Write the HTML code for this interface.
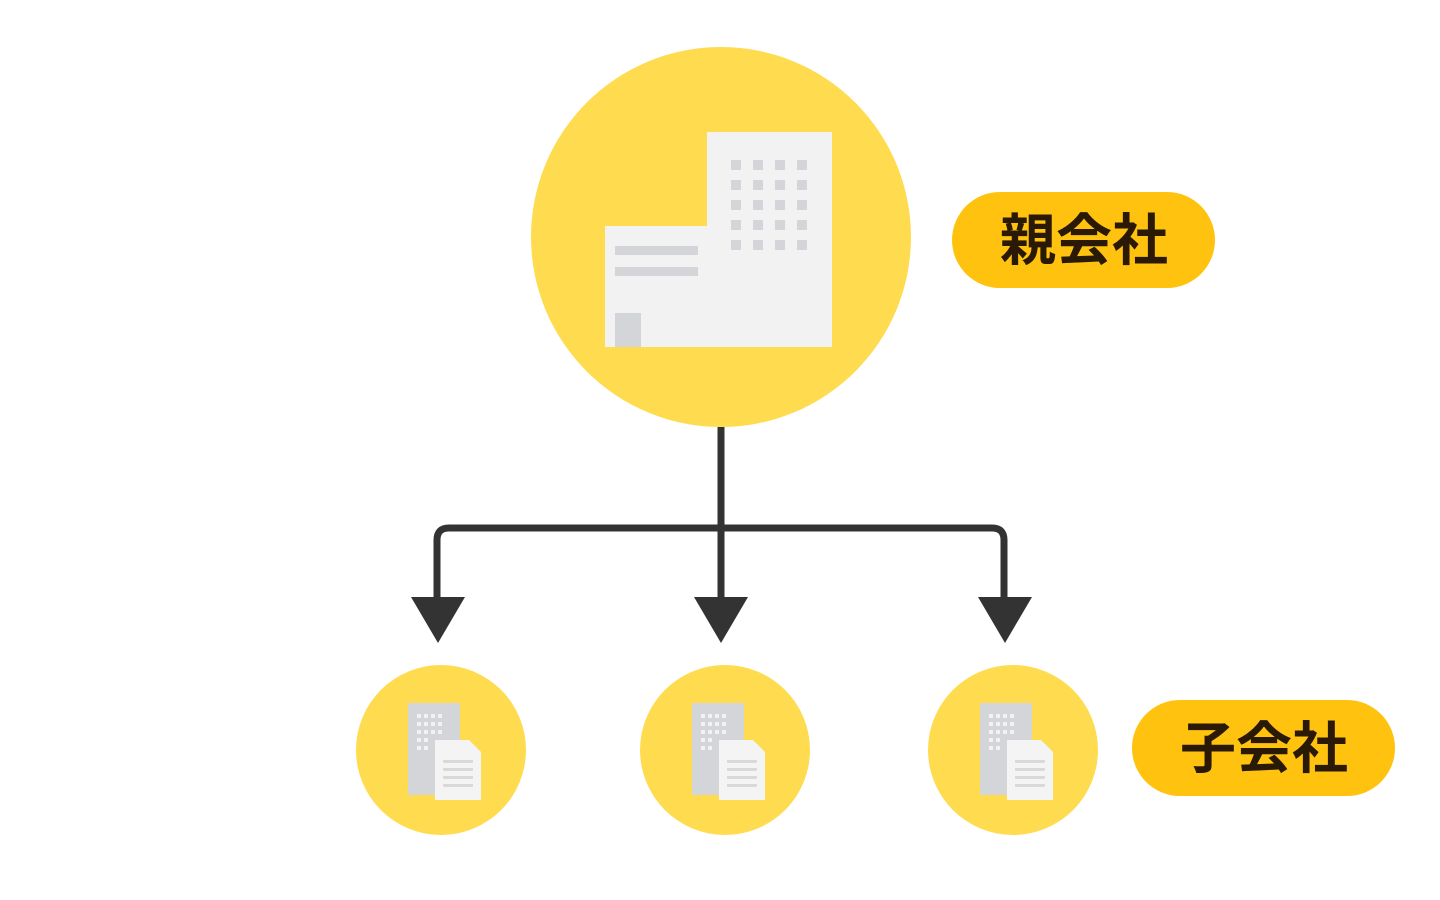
<!DOCTYPE html>
<html><head><meta charset="utf-8"><style>
html,body{margin:0;padding:0;background:#fff;width:1440px;height:900px;overflow:hidden}
</style></head><body>
<svg width="1440" height="900" viewBox="0 0 1440 900" xmlns="http://www.w3.org/2000/svg">
<circle cx="721" cy="237" r="190" fill="#FFDB4F"/>
<rect x="707" y="132" width="125" height="215" fill="#F2F2F2"/>
<rect x="605" y="226" width="110" height="121" fill="#F2F2F2"/>
<g fill="#D3D5D8">
<rect x="615" y="246" width="83" height="9"/>
<rect x="615" y="267" width="83" height="9"/>
<rect x="615" y="313" width="26" height="34"/>
</g>
<g fill="#D3D5D8">
<rect x="731" y="160" width="10" height="10"/><rect x="753" y="160" width="10" height="10"/><rect x="775" y="160" width="10" height="10"/><rect x="797" y="160" width="10" height="10"/>
<rect x="731" y="180" width="10" height="10"/><rect x="753" y="180" width="10" height="10"/><rect x="775" y="180" width="10" height="10"/><rect x="797" y="180" width="10" height="10"/>
<rect x="731" y="200" width="10" height="10"/><rect x="753" y="200" width="10" height="10"/><rect x="775" y="200" width="10" height="10"/><rect x="797" y="200" width="10" height="10"/>
<rect x="731" y="220" width="10" height="10"/><rect x="753" y="220" width="10" height="10"/><rect x="775" y="220" width="10" height="10"/><rect x="797" y="220" width="10" height="10"/>
<rect x="731" y="240" width="10" height="10"/><rect x="753" y="240" width="10" height="10"/><rect x="775" y="240" width="10" height="10"/><rect x="797" y="240" width="10" height="10"/>
</g>
<g stroke="#333" stroke-width="7" fill="none">
<line x1="721" y1="427" x2="721" y2="600"/>
<path d="M437 600 V540 Q437 528 449 528 H992 Q1004 528 1004 540 V600"/>
</g>
<g fill="#333">
<polygon points="411,597 465,597 438,643"/>
<polygon points="694,597 748,597 721,643"/>
<polygon points="978,597 1032,597 1005,643"/>
</g>
<defs>
<g id="sm">
<circle cx="0" cy="0" r="85" fill="#FFDB4F"/>
<rect x="-33" y="-47" width="52" height="92" fill="#D3D5D8"/>
<g fill="#F2F2F2">
<rect x="-24" y="-36" width="4" height="4"/><rect x="-17" y="-36" width="4" height="4"/><rect x="-10" y="-36" width="4" height="4"/><rect x="-3" y="-36" width="4" height="4"/>
<rect x="-24" y="-28" width="4" height="4"/><rect x="-17" y="-28" width="4" height="4"/><rect x="-10" y="-28" width="4" height="4"/><rect x="-3" y="-28" width="4" height="4"/>
<rect x="-24" y="-20" width="4" height="4"/><rect x="-17" y="-20" width="4" height="4"/><rect x="-10" y="-20" width="4" height="4"/><rect x="-3" y="-20" width="4" height="4"/>
<rect x="-24" y="-12" width="4" height="4"/><rect x="-17" y="-12" width="4" height="4"/>
<rect x="-24" y="-4" width="4" height="4"/><rect x="-17" y="-4" width="4" height="4"/>
</g>
<polygon points="-6,-10 28,-10 40,2 40,50 -6,50" fill="#F4F4F4"/>
<g fill="#D9D9D9">
<rect x="2" y="10" width="30" height="3"/><rect x="2" y="18" width="30" height="3"/><rect x="2" y="26" width="30" height="3"/><rect x="2" y="34" width="30" height="3"/>
</g>
</g>
</defs>
<use href="#sm" x="441" y="750"/>
<use href="#sm" x="725" y="750"/>
<use href="#sm" x="1013" y="750"/>
<rect x="952" y="192" width="263" height="96" rx="48" fill="#FFC20E"/>
<text x="1084" y="260" text-anchor="middle" font-family="'Liberation Sans','Noto Sans CJK JP',sans-serif" font-weight="bold" font-size="56" fill="#2A1A05">親会社</text>
<rect x="1132" y="700" width="263" height="96" rx="48" fill="#FFC20E"/>
<text x="1264" y="768" text-anchor="middle" font-family="'Liberation Sans','Noto Sans CJK JP',sans-serif" font-weight="bold" font-size="56" fill="#2A1A05">子会社</text>
</svg>
</body></html>
